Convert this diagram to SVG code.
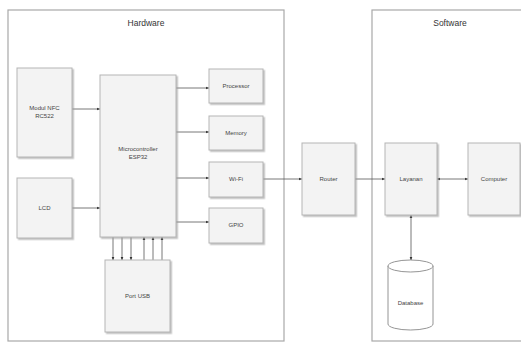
<svg xmlns="http://www.w3.org/2000/svg" width="521" height="343" viewBox="0 0 521 343">
<defs>
<style>
.box{fill:#f3f3f3;stroke:#b5b5b5;stroke-width:1;filter:url(#sh)}
.lbl{font-family:"Liberation Sans",Arial,sans-serif;font-size:6px;fill:#444;text-anchor:middle}
.ttl{font-family:"Liberation Sans",Arial,sans-serif;font-size:8.5px;fill:#333;text-anchor:middle}
.cont{fill:#fff;stroke:#a8a8a8;stroke-width:1.2}
.con{stroke:#555;stroke-width:0.8;fill:none}
</style>
<filter id="sh" x="-20%" y="-20%" width="140%" height="140%">
<feDropShadow dx="1.5" dy="1.5" stdDeviation="0.6" flood-color="#999" flood-opacity="0.6"/>
</filter>
<marker id="a" viewBox="0 0 6 6" refX="5.5" refY="3" markerWidth="4" markerHeight="4" orient="auto-start-reverse">
<path d="M0,0.5 L6,3 L0,5.5 Z" fill="#333"/>
</marker>
</defs>
<rect width="521" height="343" fill="#fff"/>
<g id="hardware">
<rect class="cont" x="8" y="10" width="276" height="331"/>
<text class="ttl" x="146" y="26">Hardware</text>
</g>
<g id="software">
<rect class="cont" x="372" y="10" width="160" height="331"/>
<text class="ttl" x="450" y="26">Software</text>
</g>
<g id="connectors">
<line class="con" x1="72" y1="109" x2="100" y2="109" marker-end="url(#a)"/>
<line class="con" x1="72" y1="208" x2="100" y2="208" marker-end="url(#a)"/>
<line class="con" x1="176" y1="88" x2="209" y2="88" marker-end="url(#a)"/>
<line class="con" x1="176" y1="132" x2="209" y2="132" marker-end="url(#a)"/>
<line class="con" x1="176" y1="178" x2="209" y2="178" marker-end="url(#a)"/>
<line class="con" x1="176" y1="222" x2="209" y2="222" marker-end="url(#a)"/>
<line class="con" x1="113" y1="237" x2="113" y2="260" marker-end="url(#a)"/>
<line class="con" x1="122" y1="237" x2="122" y2="260" marker-end="url(#a)"/>
<line class="con" x1="131" y1="237" x2="131" y2="260" marker-end="url(#a)"/>
<line class="con" x1="144" y1="260" x2="144" y2="237" marker-end="url(#a)"/>
<line class="con" x1="153" y1="260" x2="153" y2="237" marker-end="url(#a)"/>
<line class="con" x1="162" y1="260" x2="162" y2="237" marker-end="url(#a)"/>
<line class="con" x1="263" y1="179" x2="302" y2="179" marker-end="url(#a)"/>
<line class="con" x1="355" y1="179" x2="385" y2="179" marker-end="url(#a)"/>
<line class="con" x1="437" y1="179" x2="468" y2="179" marker-start="url(#a)" marker-end="url(#a)"/>
<line class="con" x1="411" y1="215" x2="411" y2="260" marker-start="url(#a)" marker-end="url(#a)"/>
</g>
<g id="nfc">
<rect class="box" x="17" y="68" width="55" height="89"/>
<text class="lbl" x="44.5" y="110">Modul NFC</text>
<text class="lbl" x="44.5" y="118">RC522</text>
</g>
<g id="lcd">
<rect class="box" x="17" y="178" width="55" height="60"/>
<text class="lbl" x="44.5" y="210">LCD</text>
</g>
<g id="esp32">
<rect class="box" x="100" y="75" width="76" height="162"/>
<text class="lbl" x="138" y="151">Microcontroller</text>
<text class="lbl" x="138" y="159">ESP32</text>
</g>
<g id="processor">
<rect class="box" x="209" y="69" width="54" height="34"/>
<text class="lbl" x="236" y="88">Processor</text>
</g>
<g id="memory">
<rect class="box" x="209" y="116" width="54" height="34"/>
<text class="lbl" x="236" y="135">Memory</text>
</g>
<g id="wifi">
<rect class="box" x="209" y="162" width="54" height="35"/>
<text class="lbl" x="236" y="181">Wi-Fi</text>
</g>
<g id="gpio">
<rect class="box" x="209" y="208" width="54" height="35"/>
<text class="lbl" x="236" y="227">GPIO</text>
</g>
<g id="usb">
<rect class="box" x="105" y="260" width="65" height="72"/>
<text class="lbl" x="137.5" y="298">Port USB</text>
</g>
<g id="router">
<rect class="box" x="302" y="143" width="53" height="72"/>
<text class="lbl" x="328.5" y="181">Router</text>
</g>
<g id="layanan">
<rect class="box" x="385" y="143" width="52" height="72"/>
<text class="lbl" x="411" y="181">Layanan</text>
</g>
<g id="computer">
<rect class="box" x="468" y="143" width="52" height="72"/>
<text class="lbl" x="494" y="181">Computer</text>
</g>
<g id="database">
<path d="M388,266 L388,324 A22.5,6 0 0 0 433,324 L433,266" fill="#fff" stroke="#888" stroke-width="0.9"/>
<ellipse cx="410.5" cy="266" rx="22.5" ry="6" fill="#fff" stroke="#888" stroke-width="0.9"/>
<text class="lbl" x="410.5" y="305">Database</text>
</g>
</svg>
